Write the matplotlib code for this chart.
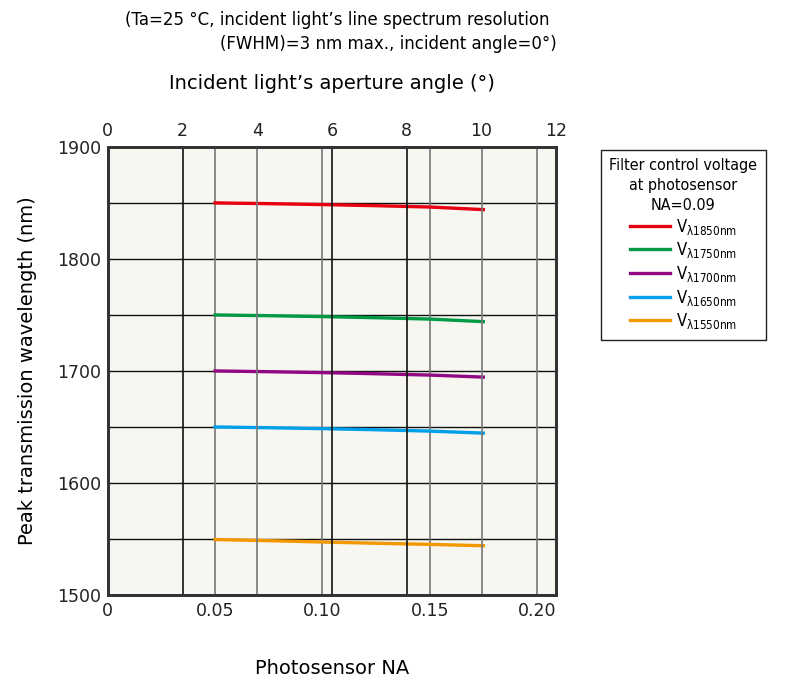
import matplotlib
matplotlib.use("Agg")
import matplotlib.pyplot as plt
from matplotlib.font_manager import FontProperties

# Photosensor NA sample points and peak wavelength for each filter control voltage
na_values = [0.05, 0.075, 0.10, 0.125, 0.15, 0.175]
peak_1850 = [1850.0, 1849.3, 1848.5, 1847.5, 1846.3, 1844.0]
peak_1750 = [1750.0, 1749.3, 1748.5, 1747.5, 1746.3, 1744.0]
peak_1700 = [1700.0, 1699.3, 1698.5, 1697.5, 1696.3, 1694.5]
peak_1650 = [1650.0, 1649.3, 1648.5, 1647.5, 1646.3, 1644.5]
peak_1550 = [1549.5, 1548.5, 1547.3, 1546.2, 1545.2, 1544.0]

series_labels = ["1850", "1750", "1700", "1650", "1550"]
series_values = [peak_1850, peak_1750, peak_1700, peak_1650, peak_1550]
series_colors = ["#e60012", "#009944", "#920783", "#00a0e9", "#f39800"]

na_ticks = [0, 0.05, 0.10, 0.15, 0.20]
na_tick_labels = ["0", "0.05", "0.10", "0.15", "0.20"]
angle_ticks = [0, 2, 4, 6, 8, 10, 12]
wl_ticks = [1500, 1600, 1700, 1800, 1900]

plt.rcParams["font.family"] = ["DejaVu Sans"]

fig = plt.figure(figsize=(8.05, 6.79), dpi=100)
ax = fig.add_axes([0.134, 0.1237, 0.557, 0.66])
ax.set_facecolor("#f7f6f0")

na_max = 0.2090
ax.set_xlim(0, na_max)
ax.set_ylim(1500, 1900)

# grid: horizontal every 50 nm, vertical at NA ticks (gray) and angle ticks
for y in range(1550, 1900, 50):
    ax.axhline(y, color="#111111", lw=1.0, zorder=1)
for x in [0.05, 0.10, 0.15, 0.20]:
    ax.axvline(x, color="#777777", lw=1.2, zorder=1)

ax2 = ax.twiny()
ax2.set_xlim(0, 12)
for a, c in zip([2, 4, 6, 8, 10], ["#111111", "#777777", "#111111", "#111111", "#777777"]):
    ax2.axvline(a, color=c, lw=1.2, zorder=1)

for label, vals, color in zip(series_labels, series_values, series_colors):
    ax.plot(na_values, vals, color=color, lw=2.4, zorder=3,
            label=r"V$_{\mathregular{λ" + label + "nm}}$")

ax.set_xticks(na_ticks)
ax.set_xticklabels(na_tick_labels)
ax.set_yticks(wl_ticks)
ax2.set_xticks(angle_ticks)
for a in (ax, ax2):
    a.tick_params(length=0, labelsize=12.5, colors="#222222", pad=5)
    for s in a.spines.values():
        s.set_linewidth(2.0)
        s.set_color("#333333")

ax.set_ylabel("Peak transmission wavelength (nm)", fontsize=14, labelpad=14)
ax.set_xlabel("Photosensor NA", fontsize=14, labelpad=28)
ax2.set_xlabel("Incident light’s aperture angle (°)", fontsize=14, labelpad=24)

fig.text(0.683, 0.970, "(Ta=25 °C, incident light’s line spectrum resolution",
         ha="right", va="center", fontsize=12)
fig.text(0.692, 0.935, "(FWHM)=3 nm max., incident angle=0°)",
         ha="right", va="center", fontsize=12)

leg = ax.legend(loc="upper left", bbox_to_anchor=(1.100, 0.993),
                prop=FontProperties(family="DejaVu Sans", stretch="condensed", size=12),
                title="Filter control voltage\nat photosensor\nNA=0.09",
                title_fontproperties=FontProperties(family="DejaVu Sans",
                                                    stretch="condensed", size=11.5),
                fancybox=False, edgecolor="#222222",
                handlelength=2.4, handletextpad=0.4, labelspacing=0.22,
                borderpad=0.5, borderaxespad=0, framealpha=1)
leg.get_frame().set_linewidth(1.0)
leg.get_title().set_multialignment("center")
leg.get_title().set_linespacing(1.4)

fig.savefig("out.png", dpi=100)
